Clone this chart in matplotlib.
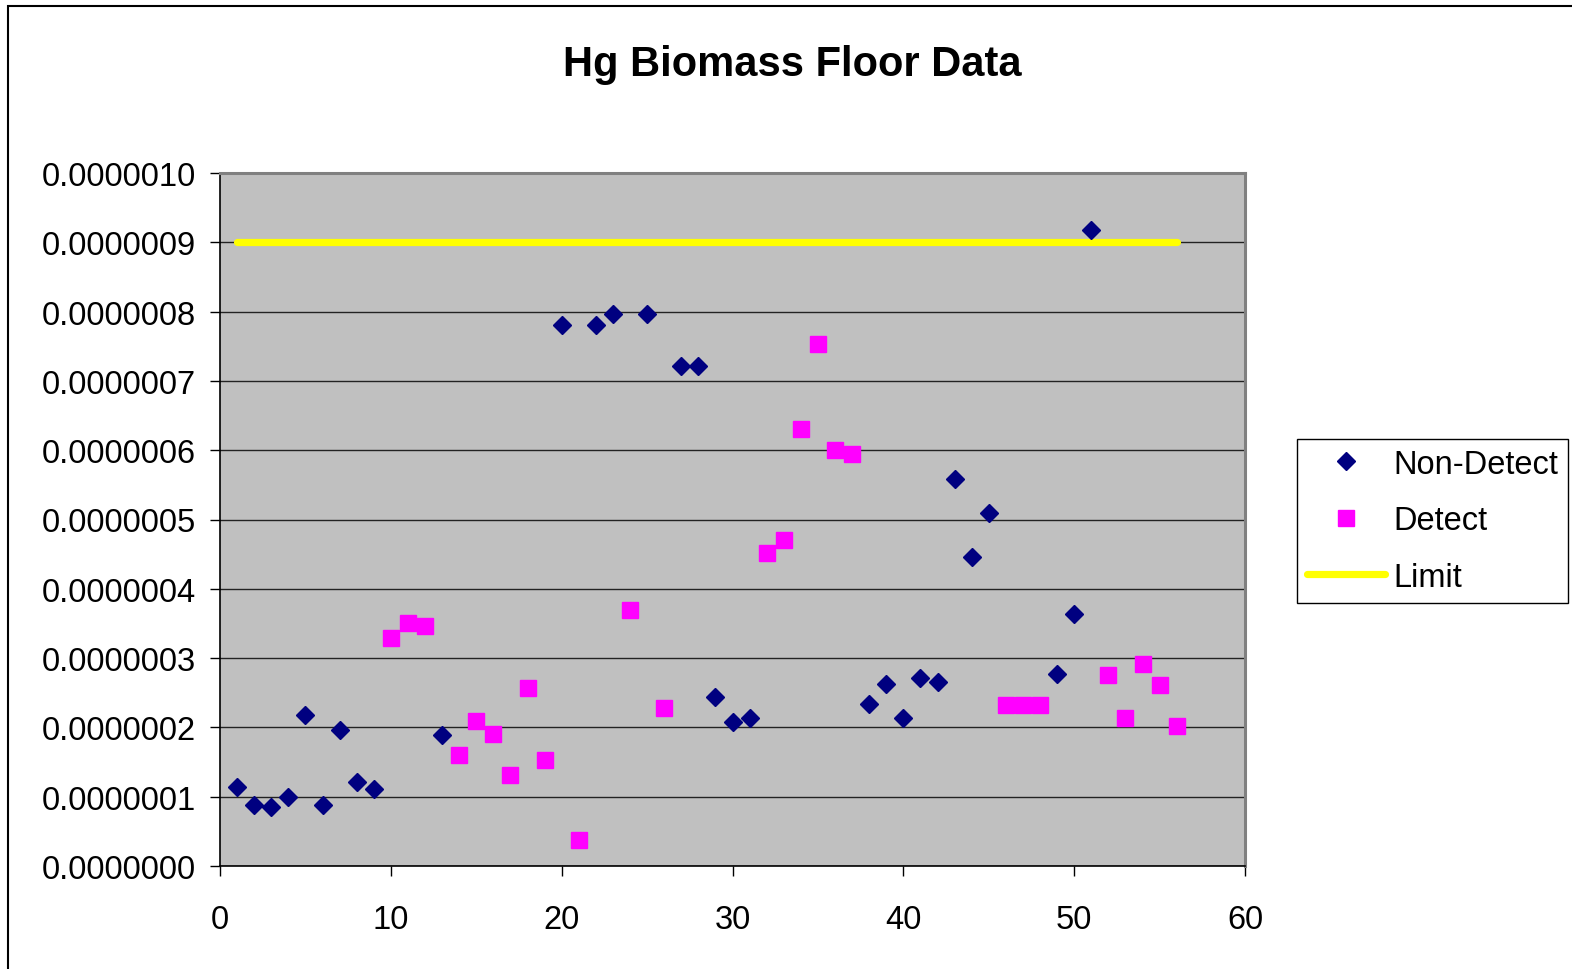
import numpy as np
import matplotlib
matplotlib.use("Agg")
import matplotlib.pyplot as plt
from matplotlib.patches import Rectangle
from matplotlib.ticker import FormatStrFormatter, MultipleLocator

plt.rcParams['font.family'] = ['Liberation Sans', 'DejaVu Sans']

# sample numbers below the reporting limit
nd_x = [1, 2, 3, 4, 5, 6, 7, 8, 9, 13, 20, 22, 23, 25, 27, 28, 29, 30, 31,
        38, 39, 40, 41, 42, 43, 44, 45, 49, 50, 51]
nd_y = [1.14e-7, 0.88e-7, 0.85e-7, 1.00e-7, 2.18e-7, 0.88e-7, 1.96e-7, 1.21e-7,
        1.11e-7, 1.89e-7, 7.81e-7, 7.81e-7, 7.96e-7, 7.96e-7, 7.22e-7, 7.22e-7,
        2.44e-7, 2.08e-7, 2.14e-7, 2.34e-7, 2.63e-7, 2.14e-7, 2.71e-7, 2.66e-7,
        5.58e-7, 4.46e-7, 5.09e-7, 2.77e-7, 3.63e-7, 9.18e-7]

# detected samples
d_x = [10, 11, 12, 14, 15, 16, 17, 18, 19, 21, 24, 26, 32, 33, 34, 35, 36, 37,
       46, 47, 48, 52, 53, 54, 55, 56]
d_y = [3.29e-7, 3.51e-7, 3.46e-7, 1.60e-7, 2.09e-7, 1.90e-7, 1.31e-7, 2.57e-7,
       1.53e-7, 0.38e-7, 3.69e-7, 2.28e-7, 4.52e-7, 4.70e-7, 6.30e-7, 7.53e-7,
       6.01e-7, 5.94e-7, 2.32e-7, 2.32e-7, 2.32e-7, 2.76e-7, 2.14e-7, 2.91e-7,
       2.61e-7, 2.02e-7]

limit_x = [1, 56]
limit_y = [9e-7, 9e-7]

W, H = 1572, 970
fig = plt.figure(figsize=(W / 100, H / 100), dpi=100)
ax = fig.add_axes([220 / W, 1 - 867 / H, 1025 / W, 693 / H])
ax.set_facecolor('#C0C0C0')

ax.plot(nd_x, nd_y, linestyle='none', marker='D', markersize=9.6,
        color='#000080', label='Non-Detect', zorder=3)
ax.plot(d_x, d_y, linestyle='none', marker='s', markersize=11,
        color='#FF00FF', label='Detect', zorder=3)
ax.plot(limit_x, limit_y, color='#FFFF00', linewidth=5.2,
        solid_capstyle='round', label='Limit', zorder=2)

ax.set_xlim(0, 60)
ax.set_ylim(0, 1e-6)
ax.xaxis.set_major_locator(MultipleLocator(10))
ax.yaxis.set_major_locator(MultipleLocator(1e-7))
ax.yaxis.set_major_formatter(FormatStrFormatter('%.7f'))
ax.yaxis.grid(True, color='#222222', linewidth=1.0)
ax.set_axisbelow(True)

ax.tick_params(axis='both', direction='out', length=7.5, width=1.0,
               labelsize=23.5, color='black')
ax.tick_params(axis='x', pad=20)
ax.tick_params(axis='y', pad=10)

for side in ('left', 'bottom'):
    ax.spines[side].set_color('black')
    ax.spines[side].set_linewidth(1.2)
for side in ('top', 'right'):
    ax.spines[side].set_color('#808080')
    ax.spines[side].set_linewidth(2.2)

fig.text(792 / W, 1 - 65 / H, 'Hg Biomass Floor Data', ha='center',
         va='center', fontsize=30, fontweight='bold')

leg = ax.legend(loc='upper left', bbox_to_anchor=(1297 / W, 1 - 440 / H),
                bbox_transform=fig.transFigure, fontsize=23.5,
                fancybox=False, framealpha=1, edgecolor='black',
                handlelength=2.4, handletextpad=0.25, labelspacing=0.78,
                borderpad=0.3, borderaxespad=0)
leg.get_frame().set_linewidth(1.0)

# chart area outline
fig.patches.append(Rectangle((8 / W, -0.5), 2, 1.5 - 7 / H, fill=False,
                             edgecolor='black', linewidth=1.5,
                             transform=fig.transFigure, figure=fig))

fig.savefig('out.png', dpi=100, facecolor='white')
